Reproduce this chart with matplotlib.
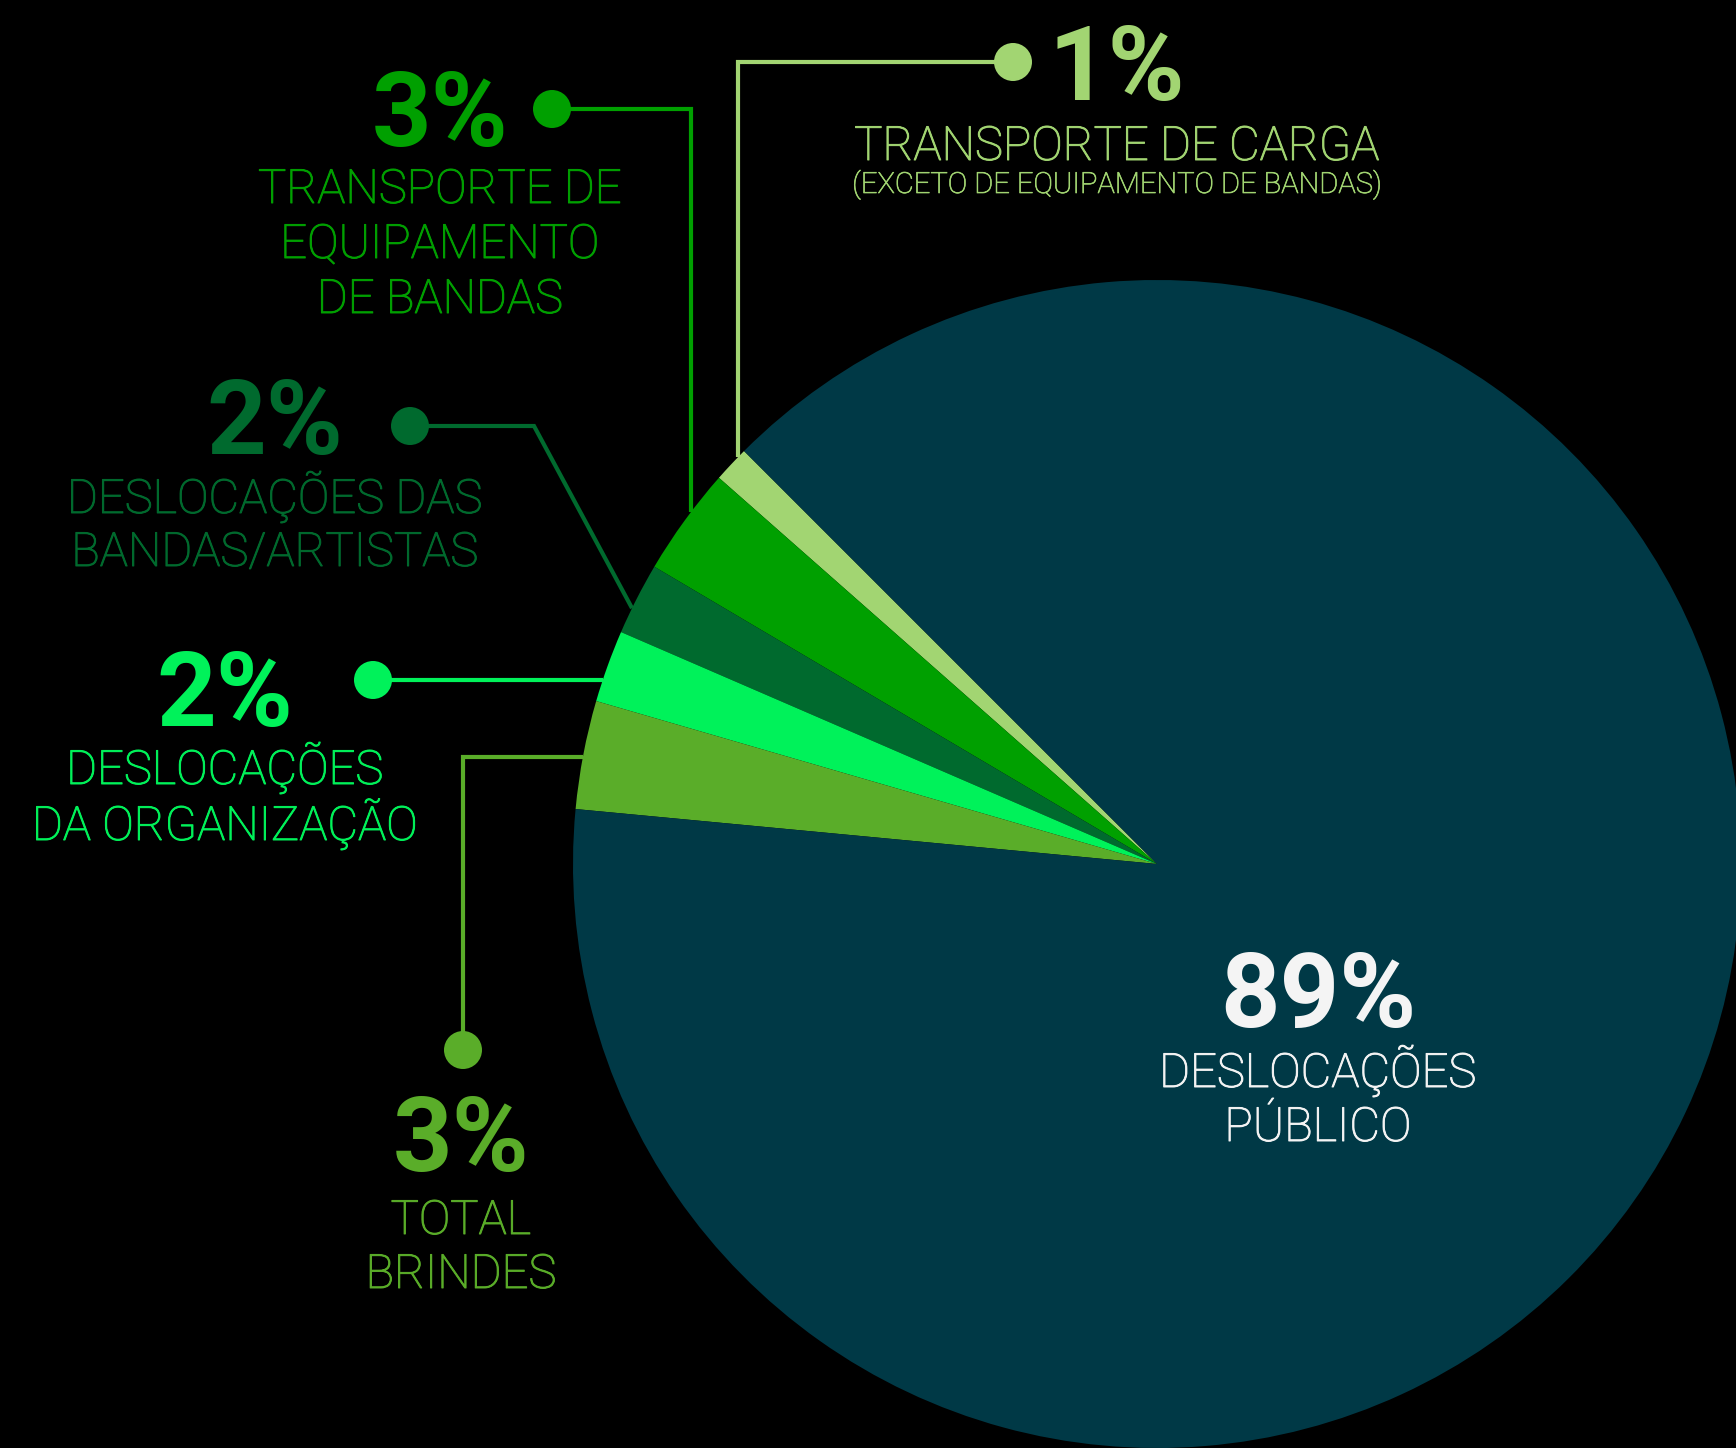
import numpy as np
import matplotlib
matplotlib.use("Agg")
import matplotlib.pyplot as plt
import matplotlib.patheffects as pe
from matplotlib.patches import Circle

# ── Data ─────────────────────────────────────────────────────────────────────
shares = [1, 3, 2, 2, 3, 89]
pct_labels = ["1%", "3%", "2%", "2%", "3%", "89%"]
names = [
    "TRANSPORTE DE CARGA",
    "TRANSPORTE DE\nEQUIPAMENTO\nDE BANDAS",
    "DESLOCAÇÕES DAS\nBANDAS/ARTISTAS",
    "DESLOCAÇÕES\nDA ORGANIZAÇÃO",
    "TOTAL\nBRINDES",
    "DESLOCAÇÕES\nPÚBLICO",
]
note = "(EXCETO DE EQUIPAMENTO DE BANDAS)"
colors = ["#a2d572", "#00a000", "#006a2e", "#00f25a", "#5aad29", "#003946"]

W, H = 1736, 1448
cx, cy, R = 1157, 864, 584

fig = plt.figure(figsize=(W / 100, H / 100), dpi=100, facecolor="black")
ax = fig.add_axes([0, 0, 1, 1], facecolor="black")

# y axis runs downwards (pixel style), so the pie goes clockwise in data space
ax.pie(shares, colors=colors, startangle=-135, counterclock=False,
       center=(cx, cy), radius=R, wedgeprops=dict(linewidth=0, zorder=2))
ax.set_xlim(0, W)
ax.set_ylim(H, 0)
ax.set_aspect("equal")
ax.axis("off")


def edge_x(y):
    return cx - np.sqrt(R ** 2 - (cy - y) ** 2)


def edge_y(x):
    return cy - np.sqrt(R ** 2 - (cx - x) ** 2)


def ray_hit(p0, p1):
    # where the segment p0->p1 (extended) meets the circle
    p0, p1 = np.array(p0, float), np.array(p1, float)
    d = (p1 - p0) / np.linalg.norm(p1 - p0)
    f = p0 - np.array([cx, cy])
    b = np.dot(f, d)
    c = np.dot(f, f) - R ** 2
    t = -b - np.sqrt(b * b - c)
    return p0 + t * d


# leader paths: dot first, pie edge last
leaders = [
    [(1013, 62), (738, 62), (738, edge_y(738))],
    [(552, 109), (691, 109), (691, edge_y(691))],
    [(410, 426), (534, 426), tuple(ray_hit((534, 426), (633, 610)))],
    [(373, 680), (edge_x(680), 680)],
    [(463, 1050), (463, 757), (edge_x(757), 757)],
]
for pts, col in zip(leaders, colors):
    xs, ys = zip(*pts)
    ax.plot(xs, ys, color=col, lw=3.0, solid_joinstyle="miter",
            solid_capstyle="butt", zorder=1)
    ax.add_patch(Circle(pts[0], 19, color=col, zorder=3, lw=0))

# label blocks: (x centre, baseline of percentage, baseline of first line, line step)
blocks = [
    (1117, 100, 160, 0),
    (440, 146, 203, 55),
    (275, 454, 513, 53),
    (225, 726, 784, 56),
    (461, 1171, 1234, 54),
    (1318, 1027, 1087, 54),
]
pct_font = dict(family="Roboto", weight="bold", size=75)
name_font = dict(family="Roboto", weight="light", size=34)


def thicken(col, w=0.7):
    return [pe.Stroke(linewidth=w, foreground=col), pe.Normal()]


for (x, yp, yn, step), pct, name, col in zip(blocks, pct_labels, names, colors):
    tc = "#f4f4f4" if pct == "89%" else col
    ax.text(x, yp, pct, color=tc, ha="center", va="baseline", zorder=4, **pct_font)
    for i, line in enumerate(name.split("\n")):
        ax.text(x, yn + i * step, line, color=tc, ha="center", va="baseline",
                zorder=4, path_effects=thicken(tc), **name_font)

ax.text(1117, 193, note, color=colors[0], ha="center", va="baseline",
        family="Roboto", weight="light", size=21, zorder=4,
        path_effects=thicken(colors[0], 0.5))

fig.savefig("out.png", dpi=100, facecolor="black")
